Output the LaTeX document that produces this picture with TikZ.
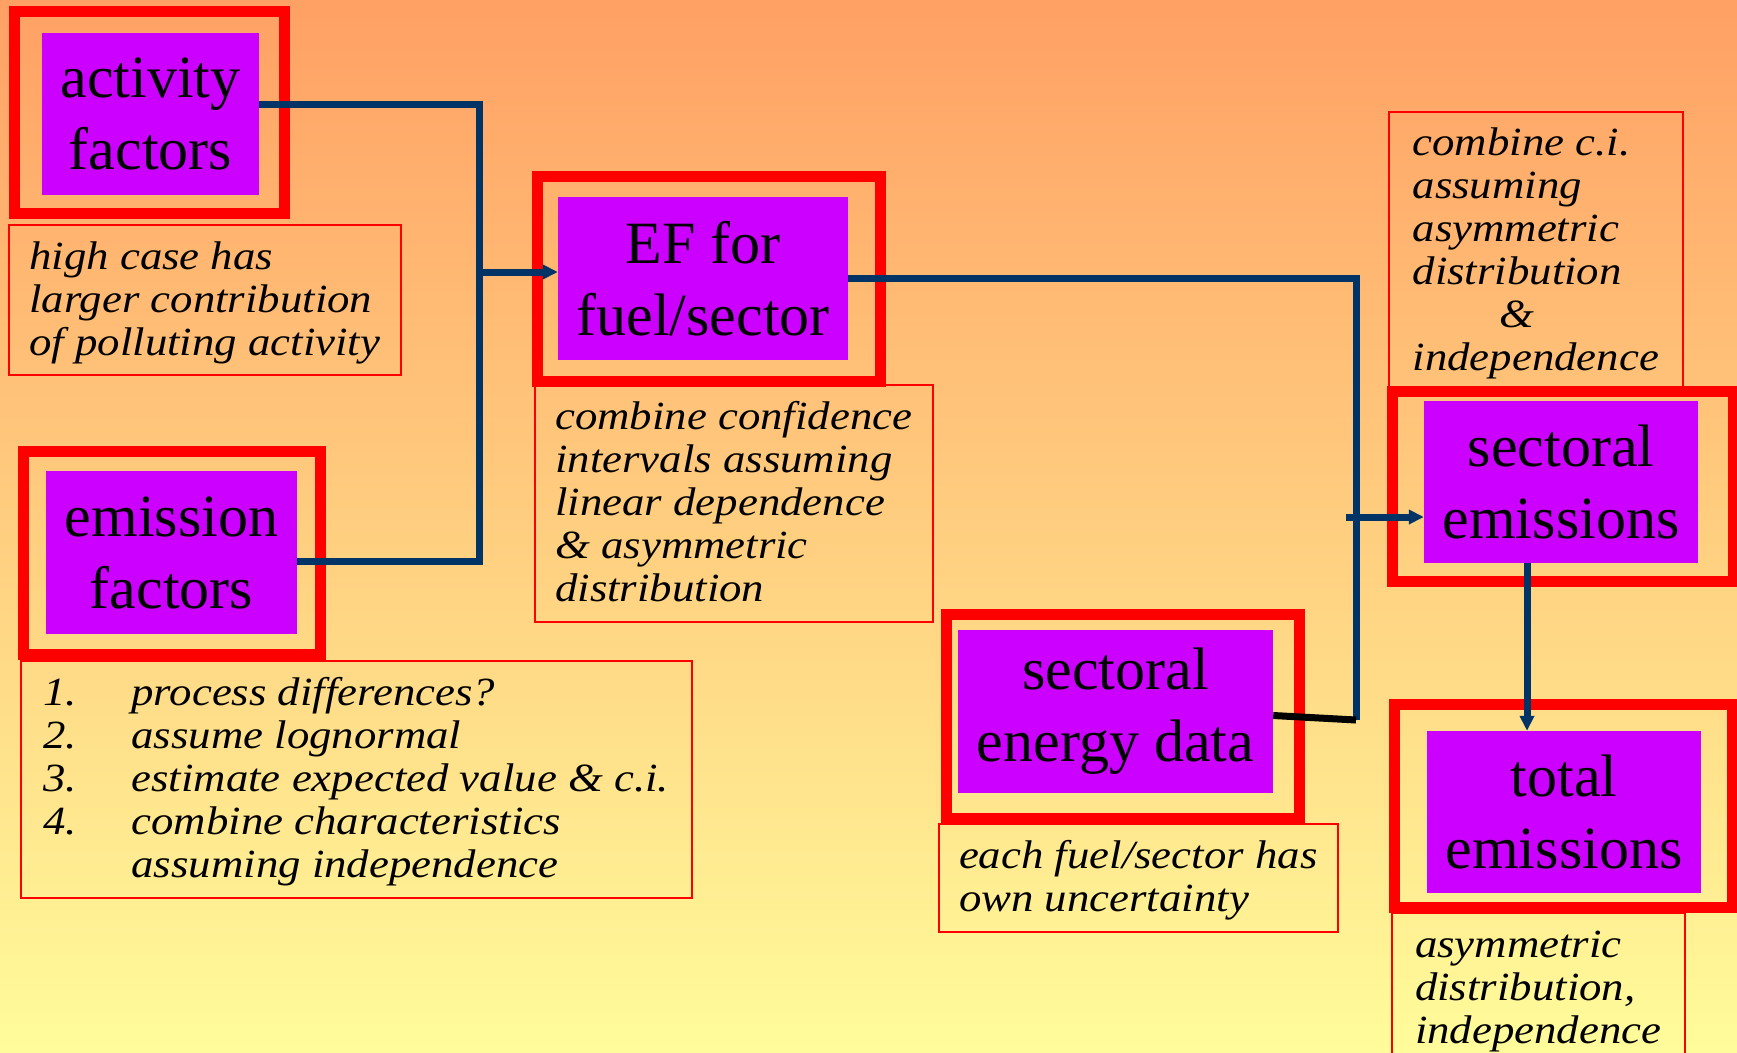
\documentclass[tikz,border=0pt]{standalone}
\usepackage{fontspec}
\setmainfont{Liberation Serif}
\newfontfamily\notefont[FakeStretch=1.12]{Liberation Serif}
\usepackage{xcolor}
\definecolor{BgTop}{HTML}{FFA064}
\definecolor{BgMid}{HTML}{FFD47D}
\definecolor{BgBot}{HTML}{FFFC9B}
\definecolor{BoxPurple}{HTML}{CC00FF}
\definecolor{FrameRed}{HTML}{FF0000}
\definecolor{Navy}{HTML}{003366}
\usepackage{tikz}
\usetikzlibrary{arrows.meta,calc}
\tikzset{
  frm/.style={draw=FrameRed,line width=11pt,inner sep=0pt},
  pbx/.style={fill=BoxPurple,inner sep=0pt,align=center,
    font=\fontsize{60}{72}\selectfont},
  nte/.style={draw=FrameRed,line width=1.5pt,inner sep=0pt,align=left,
    anchor=north west,font=\notefont\itshape\fontsize{40}{43}\selectfont},
  wire/.style={draw=Navy,line width=7pt},
  arr/.style={wire,-{Triangle[length=15pt,width=14pt]}},
  blk/.style={draw=black,line width=7pt},
}
\newcommand{\itm}[1]{\makebox[88pt][l]{#1}}
\newcommand{\topst}{\rule{0pt}{34pt}}
\newcommand{\botst}{\rule[-9pt]{0pt}{9pt}}

\begin{document}
\begin{tikzpicture}[x=1pt,y=-1pt]
\useasboundingbox (0,0) rectangle (1737,1052);
\shade[top color=BgTop,middle color=BgMid,bottom color=BgBot]
  (0,0) rectangle (1737,1052);

% notes
\node[nte,minimum width=392pt,minimum height=150pt] (actnt) at (8,224)
  {\topst high case has\\larger contribution\\of polluting activity\botst};
\node[nte,minimum width=671pt,minimum height=237pt] (emint) at (20,660)
  {\topst\itm{1.}process differences?\\\itm{2.}assume lognormal\\
   \itm{3.}estimate expected value \& c.i.\\\itm{4.}combine characteristics\\
   \itm{}assuming independence\botst};
\node[nte,minimum width=398pt,minimum height=237pt] (efnt) at (534,384)
  {\topst combine confidence\\intervals assuming\\linear dependence\\
   \& asymmetric\\distribution\botst};
\node[nte,minimum width=399pt,minimum height=108pt] (nrgnt) at (938,823)
  {\topst each fuel/sector has\\own uncertainty\botst};
\node[nte,minimum width=294pt,minimum height=277pt] (secnt) at (1388,111)
  {\topst combine c.i.\\assuming\\asymmetric\\distribution\\
   \hspace*{87pt}\&\\independence\botst};
\node[nte,minimum width=293pt,minimum height=150pt] (totnt) at (1391,912)
  {\topst asymmetric\\distribution,\\independence\botst};

% red frames
\node[frm,minimum width=270pt,minimum height=202pt] (actfr) at (149.5,112.5) {};
\node[frm,minimum width=297pt,minimum height=203pt] (emifr) at (172,553) {};
\node[frm,minimum width=343pt,minimum height=205pt] (effr) at (709,279) {};
\node[frm,minimum width=353pt,minimum height=204pt] (nrgfr) at (1123,716.5) {};
\node[frm,minimum width=341pt,minimum height=190pt] (secfr) at (1563,486.5) {};
\node[frm,minimum width=338pt,minimum height=203pt] (totfr) at (1563,806) {};

% purple boxes
\node[pbx,minimum width=217pt,minimum height=162pt] (act) at (150.5,114)
  {activity\\factors};
\node[pbx,minimum width=251pt,minimum height=163pt] (emi) at (171.5,552.5)
  {emission\\factors};
\node[pbx,minimum width=290pt,minimum height=163pt] (ef) at (703,278.5)
  {EF for\\fuel/sector};
\node[pbx,minimum width=315pt,minimum height=163pt] (nrg) at (1115.5,711.5)
  {sectoral\\energy data};
\node[pbx,minimum width=274pt,minimum height=162pt] (sec) at (1561,482)
  {sectoral\\emissions};
\node[pbx,minimum width=274pt,minimum height=162pt] (tot) at (1564,812)
  {total\\emissions};

% connectors
\coordinate (jt) at (479,104);
\coordinate (jm) at (479,272);
\coordinate (jb) at (479,561);
\coordinate (kt) at (1356,278.5);
\coordinate (kb) at (1356,720);
\coordinate (km) at (1346,517);

\draw[wire] ([yshift=10pt]act.east) -- (jt) -- (jb) -- (emi.east |- jb);
\draw[arr] (jm) -- (ef.west |- jm);
\draw[wire] (ef.east) -- (ef.east -| kt) -- (kb);
\draw[blk] (kb) -- ([yshift=-4pt]nrg.east);
\draw[arr] (km) -- (sec.west |- km);
\draw[arr] ([xshift=-34pt]sec.south) -- ([xshift=-34pt]sec.south |- tot.north);
\end{tikzpicture}
\end{document}
